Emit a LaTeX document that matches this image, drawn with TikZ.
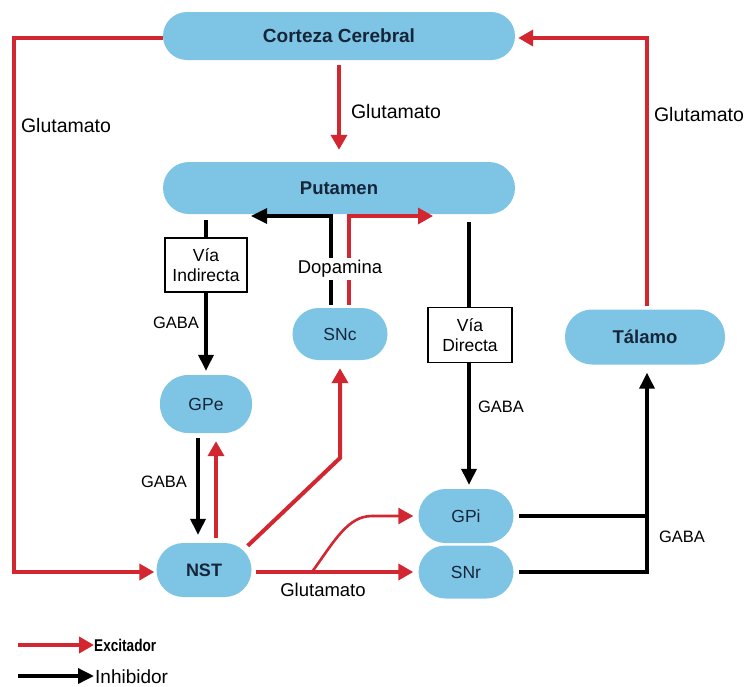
\documentclass[tikz,border=0pt]{standalone}
\usepackage{fontspec}
\setmainfont{Liberation Sans}
\newfontfamily\narrowfont{Liberation Sans}[FakeStretch=0.8]
\usetikzlibrary{arrows.meta,calc}
\definecolor{boxblue}{RGB}{126,196,228}
\definecolor{exred}{RGB}{210,38,48}
\definecolor{navy}{RGB}{22,38,58}
\tikzset{
  blob/.style={fill=boxblue, rounded corners=#1, inner sep=0pt, text=navy, font=\fontsize{17.5}{20}\selectfont},
  blob/.default=26pt,
  bigblob/.style={blob=#1, font=\fontsize{18.5}{21}\selectfont\bfseries},
  bigblob/.default=26pt,
  pathbox/.style={draw=black, line width=1.3pt, fill=white, align=center, inner sep=0pt, font=\fontsize{17.5}{19.5}\selectfont},
  exc/.style={draw=exred, line width=4pt, -{Triangle[length=15pt,width=16pt]}},
  inh/.style={draw=black, line width=3.5pt, -{Triangle[length=16pt,width=15pt]}},
  lab/.style={font=\fontsize{19.5}{22}\selectfont, text=black, inner sep=1pt},
  slab/.style={font=\fontsize{16.5}{19}\selectfont, text=black, inner sep=1pt},
}
\begin{document}
\begin{tikzpicture}[x=1pt,y=-1pt]
\useasboundingbox (0,0) rectangle (746,686);
% boxes
\node[bigblob=24pt, minimum width=352pt, minimum height=48pt, font=\fontsize{19}{22}\selectfont\bfseries] (cor) at (339,36) {Corteza Cerebral};
\node[bigblob=26pt, minimum width=352pt, minimum height=52pt] (put) at (339,188) {Putamen};
\node[bigblob=27pt, minimum width=160pt, minimum height=55pt] (tal) at (645,337) {Tálamo};
\node[blob=26pt, minimum width=95pt, minimum height=52pt] (snc) at (340,334) {SNc};
\node[blob=28pt, minimum width=92pt, minimum height=58pt] (gpe) at (206,404) {GPe};
\node[blob=27pt, minimum width=95pt, minimum height=54pt, font=\fontsize{18}{20}\selectfont\bfseries] (nst) at (204,570) {NST};
\node[blob=27pt, minimum width=95pt, minimum height=54pt] (gpi) at (466,516) {GPi};
\node[blob=27pt, minimum width=95pt, minimum height=53pt] (snr) at (466,572) {SNr};
\node[pathbox, minimum width=82pt, minimum height=54pt] (vi) at (206,265) {Vía\\Indirecta};
\node[pathbox, minimum width=84pt, minimum height=55pt] (vd) at (470,335) {Vía\\Directa};

% cortex -> putamen
\draw[exc] (cor.south) ++(0,5) -- ($(put.north)+(0,-12)$);
\node[lab] (g1) at (396,112) {Glutamato};

% cortex -> NST (left loop)
\coordinate (lt) at (14,38);
\coordinate (lb) at (14,572);
\draw[exc] (cor.west |- lt) -- (lt) -- (lb) -- ($(nst.west |- lb)+(-2,0)$);
\node[lab] (g2) at (66,126) {Glutamato};

% thalamus -> cortex (right loop)
\coordinate (rt) at (647,38);
\draw[exc] (tal.north -| rt) ++(0,-3) -- (rt) -- ($(cor.east |- rt)+(3,0)$);
\node[lab] (g3) at (699,115) {Glutamato};

% indirect pathway
\draw[line width=3.5pt] ($(put.south -| vi)+(0,6)$) -- (vi.north);
\draw[inh] (vi.south) -- ($(gpe.north)+(0,-4)$);
\node[slab] (ga1) at (176,323) {GABA};

% GPe <-> NST
\draw[inh] ($(gpe.south)+(-8,5)$) -- ($(nst.north)+(-6,-8)$);
\draw[exc] ($(nst.north)+(12,-5)$) -- ($(gpe.south)+(10,8)$);
\node[slab] (ga2) at (164,482) {GABA};

% dopamine
\coordinate (db) at (331,216);
\coordinate (dr) at (349,216);
\draw[inh, line width=3.2pt] ($(snc.north -| db)+(0,-3)$) -- (db) -- (251,216);
\draw[exc, line width=3.2pt] ($(snc.north -| dr)+(0,-3)$) -- (dr) -- (433,216);
\node[lab, fill=white, inner sep=2pt, font=\fontsize{18.5}{21}\selectfont] (dop) at (340,269) {Dopamina};

% NST -> SNc
\coordinate (bend) at (340,458);
\draw[exc] ($(nst.north east)+(-4,3)$) -- (bend) -- ($(snc.south)+(0,8)$);

% direct pathway
\coordinate (dx) at (469,0);
\draw[line width=3.5pt] ($(put.south -| dx)+(0,8)$) -- (vd.north -| dx);
\draw[inh] (vd.south -| dx) -- ($(gpi.north -| dx)+(0,-4)$);
\node[slab] (ga3) at (501,407) {GABA};

% NST -> SNr / GPi
\draw[exc] ($(nst.east)+(4,2)$) -- ($(snr.west)+(-5,0)$);
\coordinate (br) at (312,572);
\draw[exc, line width=2.6pt] (br) .. controls (335,540) and (348,516) .. (372,516) -- ($(gpi.west)+(-5,0)$);
\node[lab, font=\fontsize{18.5}{21}\selectfont] (g4) at (323,590) {Glutamato};

% GPi/SNr -> thalamus
\coordinate (tj1) at (647,516);
\coordinate (tj2) at (647,572);
\draw[line width=3.5pt] ($(gpi.east)+(5,0)$) -- (tj1);
\draw[inh] ($(snr.east)+(5,0)$) -- (tj2) -- ($(tal.south -| tj2)+(0,8)$);
\node[slab] (ga4) at (682,537) {GABA};

% legend
\coordinate (l1a) at (18,645);
\coordinate (l1b) at (94,645);
\coordinate (l2a) at (18,676);
\coordinate (l2b) at (94,676);
\draw[exc] (l1a) -- (l1b);
\draw[inh] (l2a) -- (l2b);
\node[anchor=west, inner sep=0pt, font=\narrowfont\fontsize{17}{19}\selectfont\bfseries] (ex) at (94,645) {Excitador};
\node[anchor=base west, inner sep=0pt, font=\fontsize{19}{21}\selectfont] (in) at (95,683) {Inhibidor};
\end{tikzpicture}
\end{document}
